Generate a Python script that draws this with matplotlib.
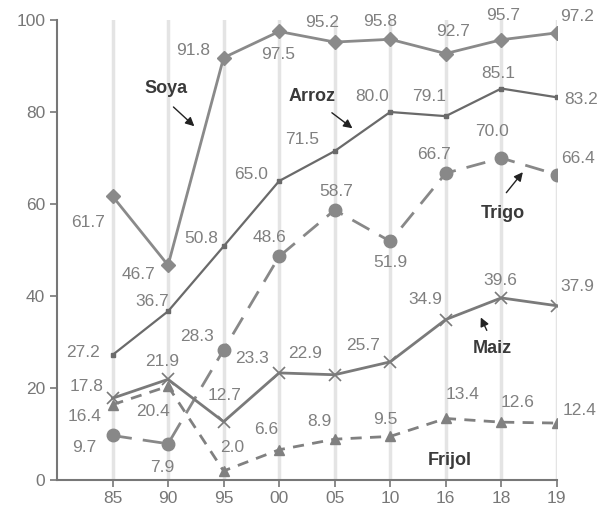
import matplotlib
matplotlib.use("Agg")
import matplotlib.pyplot as plt

plt.rcParams['font.family'] = ['Liberation Sans', 'DejaVu Sans']

years = ["85", "90", "95", "00", "05", "10", "16", "18", "19"]

soya = [61.7, 46.7, 91.8, 97.5, 95.2, 95.8, 92.7, 95.7, 97.2]
arroz = [27.2, 36.7, 50.8, 65.0, 71.5, 80.0, 79.1, 85.1, 83.2]
trigo = [9.7, 7.9, 28.3, 48.6, 58.7, 51.9, 66.7, 70.0, 66.4]
maiz = [17.8, 21.9, 12.7, 23.3, 22.9, 25.7, 34.9, 39.6, 37.9]
frijol = [16.4, 20.4, 2.0, 6.6, 8.9, 9.5, 13.4, 12.6, 12.4]

# label offsets in pixels (dx, dy)
soya_off = [(-24, -26), (-30, -9), (-30, 7), (-1, -23), (-13, 20), (-10, 18), (7, 22), (2, 24), (20, 16)]
arroz_off = [(-30, 2), (-16, 10), (-22, 8), (-28, 7), (-33, 12), (-18, 16), (-17, 20), (-3, 15), (24, -2)]
trigo_off = [(-28, -12), (-6, -24), (-27, 13), (-10, 19), (2, 19), (0, -21), (-12, 19), (-9, 27), (21, 16)]
maiz_off = [(-26, 12), (-6, 18), (1, 26), (-27, 14), (-30, 21), (-27, 16), (-20, 20), (-1, 17), (20, 19)]
frijol_off = [(-28, -12), (-15, -25), (9, 23), (-13, 20), (-15, 18), (-5, 17), (17, 24), (16, 20), (23, 13)]

x = list(range(len(years)))

fig = plt.figure(figsize=(6.0, 5.07), dpi=100)
ax = fig.add_axes([0.095, 0.053, 0.833, 0.9076])

for xi in x:
    ax.axvline(xi, color='#e4e4e4', lw=2.5, zorder=0)

ax.plot(x, soya, color='#8a8a8a', lw=2, marker='D', ms=7, mfc='#8a8a8a', mec='#8a8a8a', zorder=3)
ax.plot(x, arroz, color='#6a6a6a', lw=1.6, marker='s', ms=3.5, mfc='#6a6a6a', mec='#6a6a6a', zorder=3)
ax.plot(x, trigo, color='#888888', lw=2, ls=(0, (7, 4)), marker='o', ms=9, mfc='#888888', mec='#888888', zorder=3)
ax.plot(x, maiz, color='#7a7a7a', lw=2, marker='x', ms=9, mew=1.2, zorder=3)
ax.plot(x, frijol, color='#808080', lw=2, ls=(0, (4, 3)), marker='^', ms=7, mfc='#808080', mec='#808080', zorder=3)

for vals, offs in [(soya, soya_off), (arroz, arroz_off), (trigo, trigo_off),
                   (maiz, maiz_off), (frijol, frijol_off)]:
    for xi, v, (dx, dy) in zip(x, vals, offs):
        ax.annotate(f"{v:.1f}", (xi, v), xytext=(dx, dy), textcoords='offset pixels',
                    ha='center', va='center', fontsize=12.5, color='#808080', zorder=4)

arrow = dict(arrowstyle='-|>', color='#222222', lw=1, mutation_scale=13)
name_font = dict(fontsize=13, fontweight='bold', color='#3a3a3a', ha='center', va='center')
ax.annotate("", xy=(1.51, 76.5), xytext=(1.06, 81.5), arrowprops=arrow)
ax.text(0.97, 85, "Soya", **name_font)
ax.annotate("", xy=(4.36, 76.1), xytext=(3.91, 80.2), arrowprops=arrow)
ax.text(3.59, 83.3, "Arroz", **name_font)
ax.annotate("", xy=(7.42, 67.4), xytext=(7.06, 62), arrowprops=arrow)
ax.text(7.03, 58, "Trigo", **name_font)
ax.annotate("", xy=(6.61, 35.9), xytext=(6.76, 32), arrowprops=arrow)
ax.text(6.83, 28.7, "Maiz", **name_font)
ax.text(6.07, 4.3, "Frijol", **name_font)

ax.set_xlim(-1, 8)
ax.set_ylim(0, 100)
ax.set_xticks(x)
ax.set_xticklabels(years)
ax.set_yticks([0, 20, 40, 60, 80, 100])
ax.tick_params(axis='both', colors='#777777', labelcolor='#777777', labelsize=12.5, length=5, width=1.2)
ax.tick_params(axis='x', pad=2.5)
for s in ['top', 'right']:
    ax.spines[s].set_visible(False)
for s in ['left', 'bottom']:
    ax.spines[s].set_color('#777777')
    ax.spines[s].set_linewidth(1.5)

fig.savefig("out.png", dpi=100)
